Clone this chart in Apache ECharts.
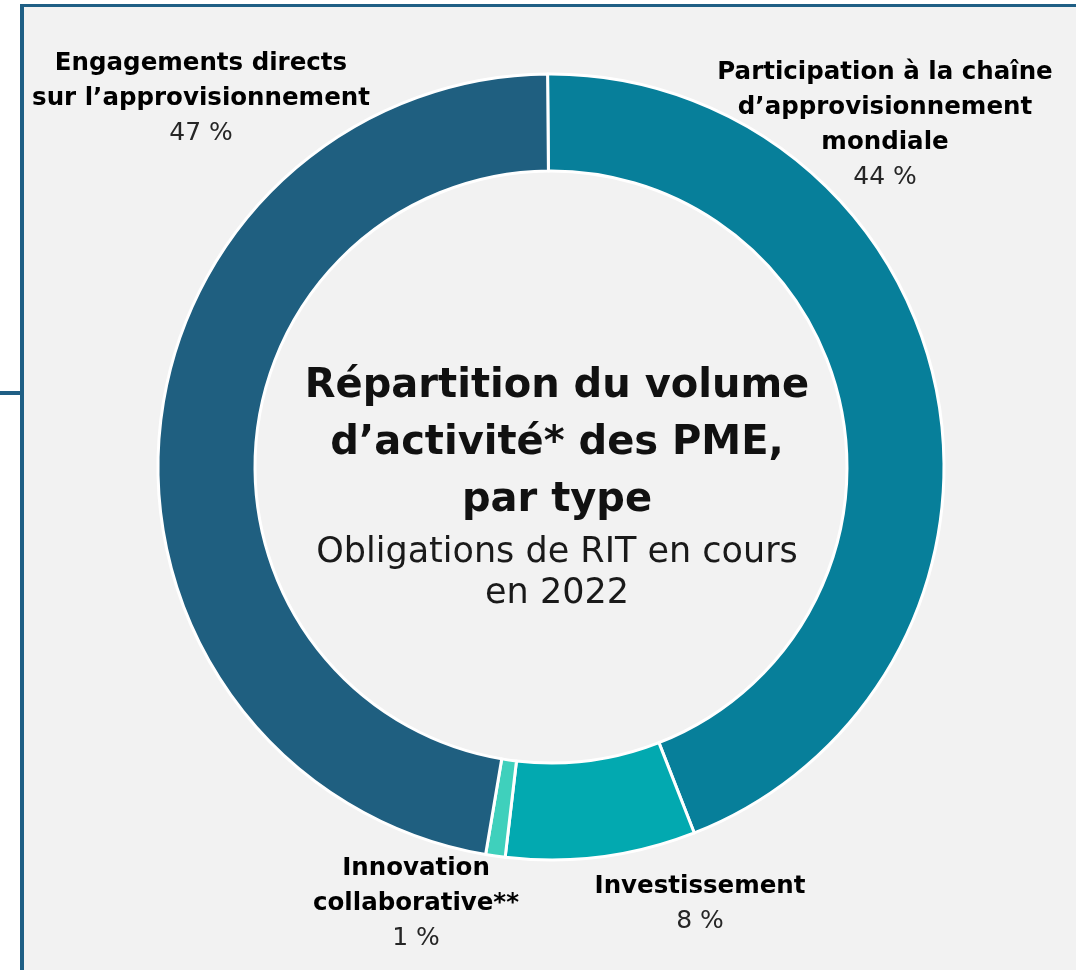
<!doctype html>
<html lang="fr">
<head>
    <meta charset="UTF-8">
    <title>Répartition du volume d’activité des PME</title>
    <script type="text/javascript" src="https://cdn.jsdelivr.net/npm/echarts@6/dist/echarts.min.js"></script>
    <style>
        html, body { margin: 0; padding: 0; background: #ffffff; }
        #container { width: 1076px; height: 970px; }
    </style>
</head>
<body>
<div id="container"></div>
<script type="text/javascript">

    // données
    var categories = [
        'Participation à la chaîne\nd’approvisionnement\nmondiale',
        'Investissement',
        'Innovation\ncollaborative**',
        'Engagements directs\nsur l’approvisionnement'
    ];
    var values = [44.2, 7.8, 0.8, 47.2];
    var shownPct = ['44 %', '8 %', '1 %', '47 %'];
    var colors = ['#077f9a', '#02a9b0', '#3fd0bc', '#1f5f80'];

    var dom = document.getElementById("container");
    var myChart = echarts.init(dom);

    // position des étiquettes (x centre, y haut)
    var labelPos = [
        [885, 55],
        [700, 869],
        [416, 851],
        [201, 46]
    ];

    var seriesData = [];
    for (var i = 0; i < values.length; i++) {
        seriesData.push({
            name: categories[i],
            value: values[i],
            itemStyle: { color: colors[i] }
        });
    }

    var option = {
        backgroundColor: '#ffffff',
        animation: false,
        graphic: [
            { type: 'rect', shape: { x: 22, y: 6, width: 1060, height: 970 }, style: { fill: '#f2f2f2' }, z: -10 },
            { type: 'rect', shape: { x: 20, y: 4, width: 1060, height: 3 }, style: { fill: '#1f5f85' }, z: -5 },
            { type: 'rect', shape: { x: 20, y: 4, width: 4, height: 970 }, style: { fill: '#1f5f85' }, z: -5 },
            { type: 'rect', shape: { x: 0, y: 391, width: 22, height: 4 }, style: { fill: '#1f5f85' }, z: -5 }
        ],
        title: {
            text: 'Répartition du volume\nd’activité* des PME,\npar type',
            subtext: 'Obligations de RIT en cours\nen 2022',
            left: 552,
            top: 353,
            textAlign: 'center',
            itemGap: 3,
            textStyle: {
                fontFamily: 'DejaVu Sans',
                fontWeight: 'bold',
                fontSize: 40,
                lineHeight: 57,
                color: '#111111'
            },
            subtextStyle: {
                fontFamily: 'DejaVu Sans',
                fontWeight: 'normal',
                fontSize: 35,
                lineHeight: 41,
                color: '#1a1a1a'
            }
        },
        series: [{
            type: 'pie',
            center: [551, 467],
            radius: [296, 393],
            startAngle: 90.5,
            clockwise: true,
            avoidLabelOverlap: false,
            itemStyle: {
                borderColor: '#ffffff',
                borderWidth: 3
            },
            label: {
                show: true,
                position: 'outside',
                formatter: function (p) {
                    var lines = p.name.split('\n');
                    var out = [];
                    for (var k = 0; k < lines.length; k++) {
                        out.push('{b|' + lines[k] + '}');
                    }
                    out.push('{p|' + shownPct[p.dataIndex] + '}');
                    return out.join('\n');
                },
                rich: {
                    b: {
                        fontFamily: 'DejaVu Sans',
                        fontWeight: 'bold',
                        fontSize: 24.5,
                        lineHeight: 35,
                        color: '#000000',
                        align: 'center'
                    },
                    p: {
                        fontFamily: 'DejaVu Sans',
                        fontWeight: 'normal',
                        fontSize: 25,
                        lineHeight: 35,
                        color: '#262626',
                        align: 'center'
                    }
                }
            },
            labelLine: { show: false },
            labelLayout: function (params) {
                var pos = labelPos[params.dataIndex];
                return {
                    x: pos[0],
                    y: pos[1],
                    align: 'center',
                    verticalAlign: 'top'
                };
            },
            data: seriesData
        }]
    };

    myChart.setOption(option, true);

</script>
</body>
</html>
